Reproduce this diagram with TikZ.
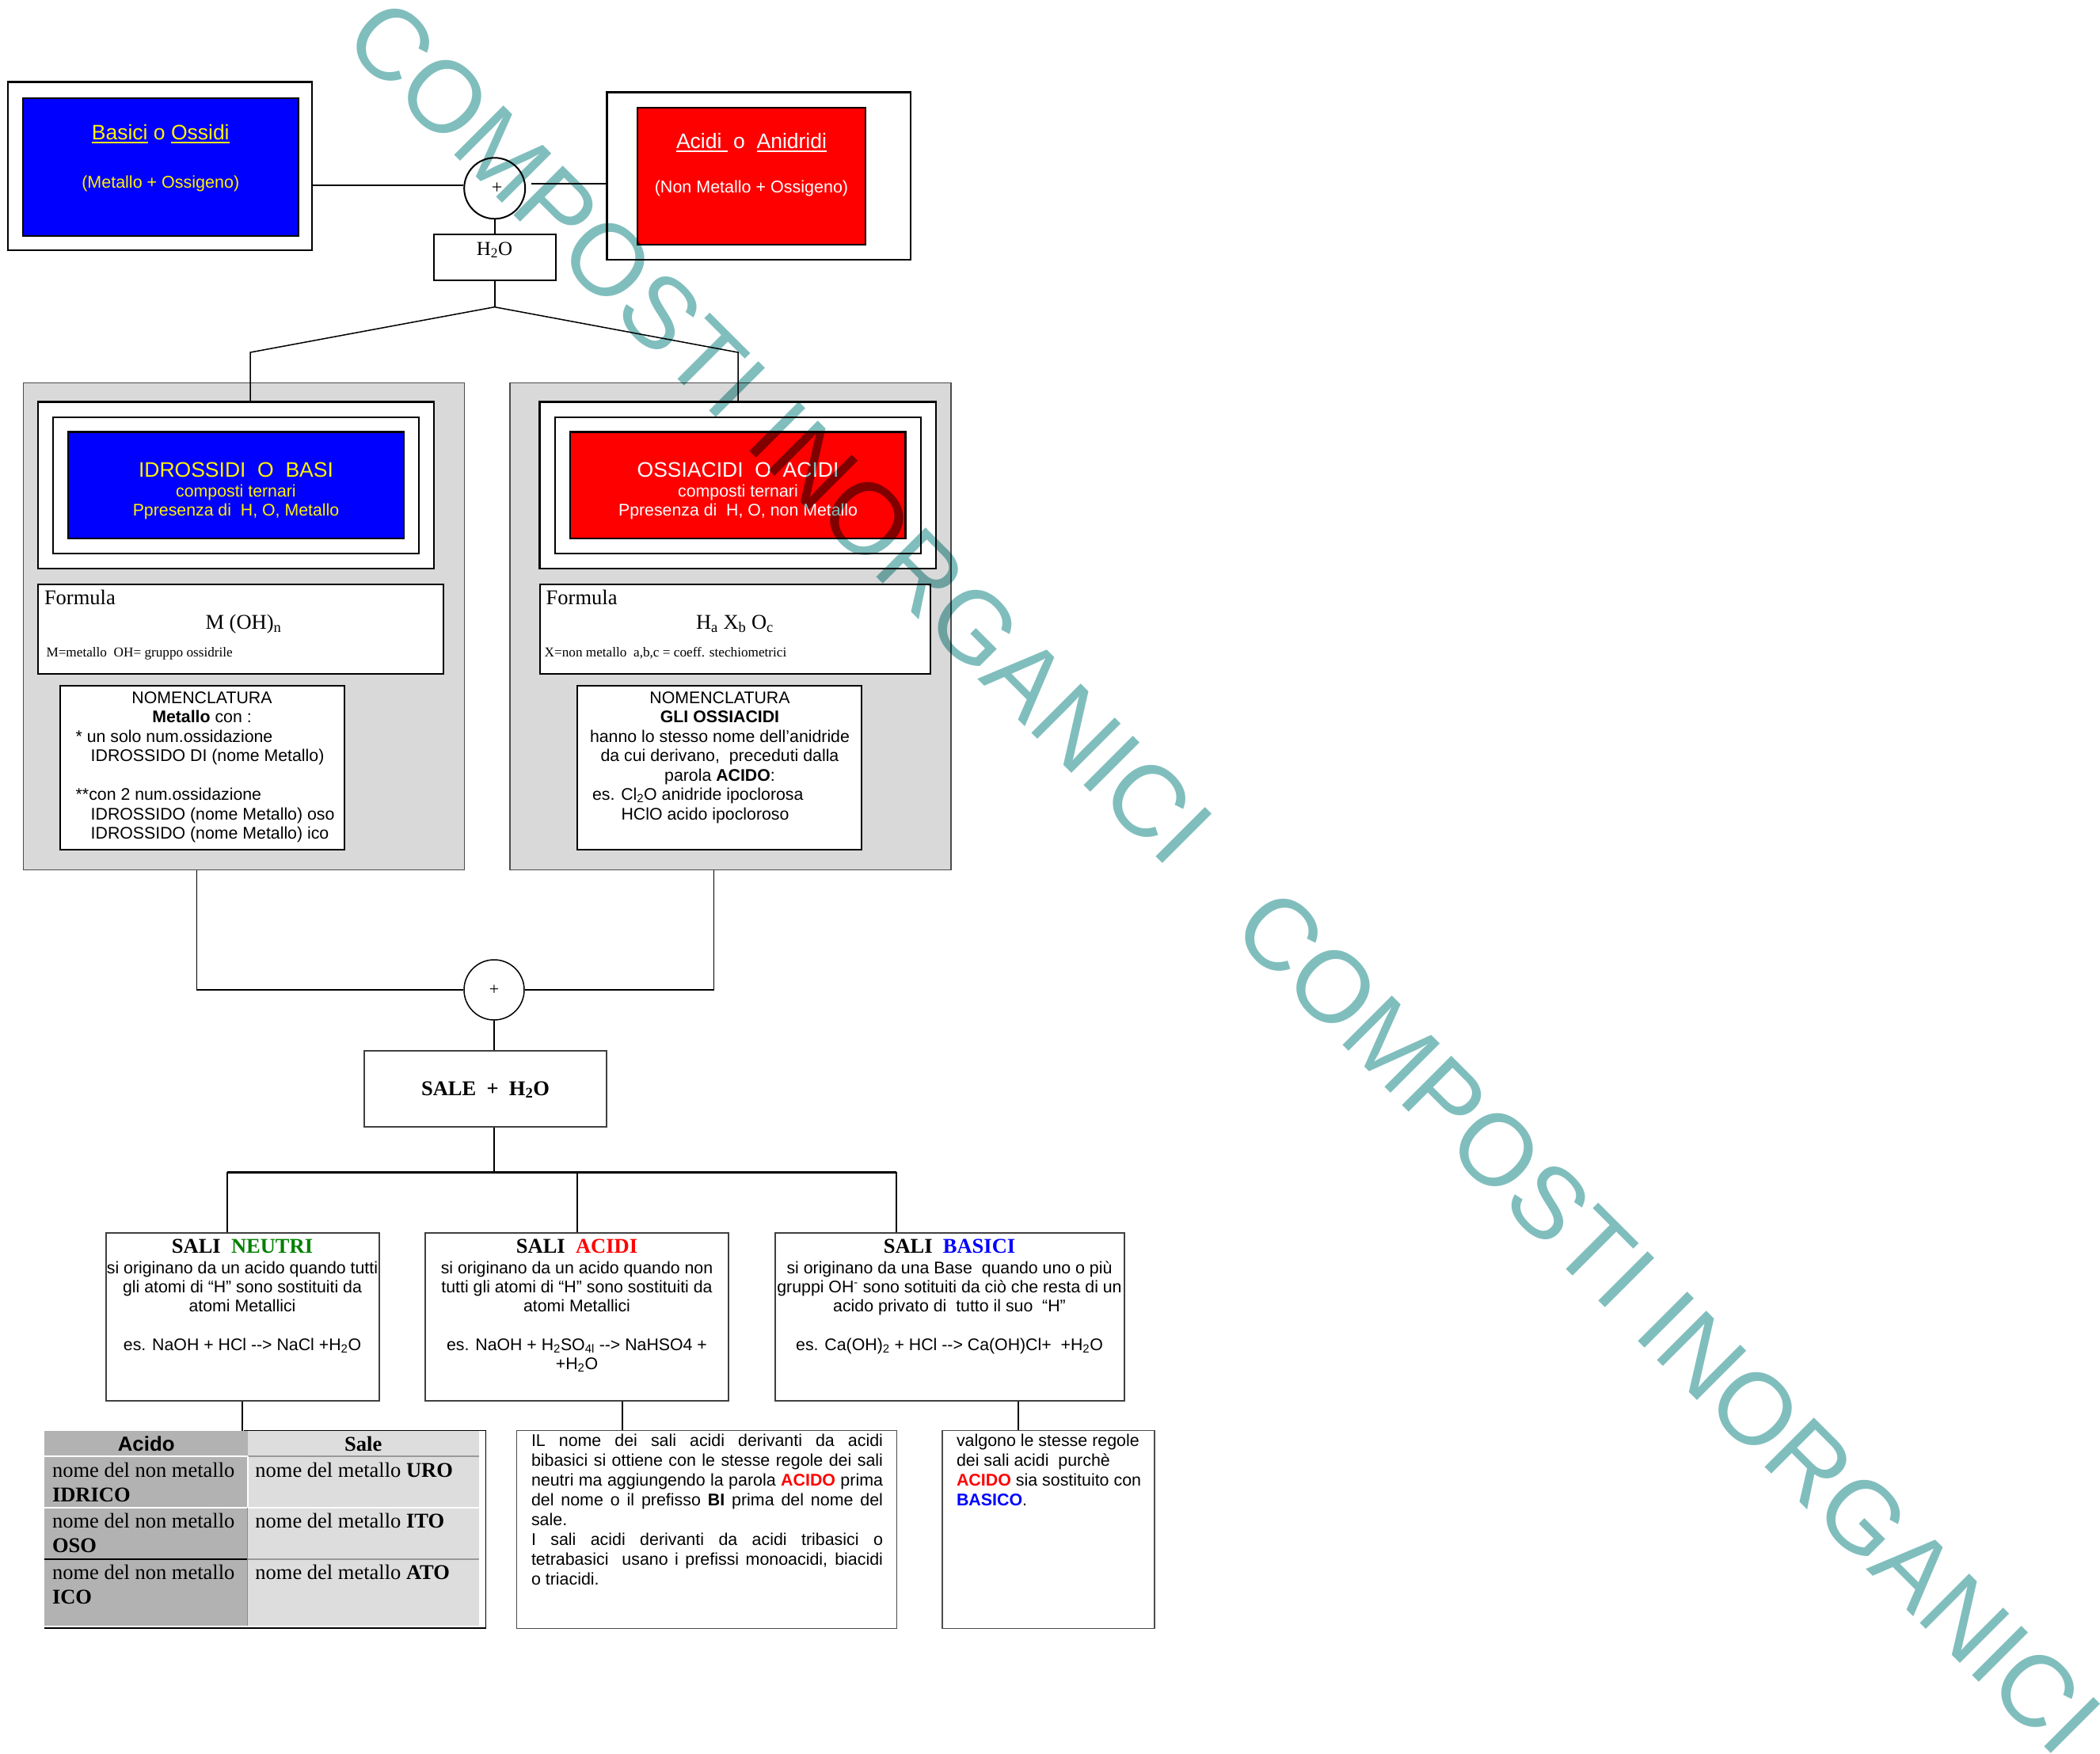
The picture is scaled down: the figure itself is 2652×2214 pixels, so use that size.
\documentclass[tikz,border=0pt]{standalone}
\usepackage{fontspec}
\setmainfont{Liberation Serif}
\newfontfamily\arial{Liberation Sans}
\usetikzlibrary{calc}
\newlength\ulw
\newcommand\uln[1]{\settowidth{\ulw}{#1}\rlap{\rule[-4.5pt]{\ulw}{2pt}}#1}
\definecolor{wm}{RGB}{128,190,189}
\definecolor{grayBox}{RGB}{217,217,217}
\definecolor{tabL}{RGB}{178,178,178}
\definecolor{tabR}{RGB}{221,221,221}
\definecolor{neutri}{RGB}{0,128,0}
\newcommand\tstrut{\rule{0pt}{30pt}}
\newcommand\fA{\arial\fontsize{21.3}{24.5}\selectfont}
\newcommand\fAs{\arial\fontsize{21.3}{24.2}\selectfont}
\newcommand\fAn{\arial\fontsize{21.4}{25}\selectfont}
\newcommand\fAb{\arial\fontsize{26.5}{30}\selectfont}
\newcommand\fAm{\arial\fontsize{21.5}{25}\selectfont}
\newcommand\fT{\fontsize{26.5}{30}\selectfont}
\newcommand\fTr{\fontsize{26.5}{31.7}\selectfont}
\newcommand\fTs{\fontsize{17.2}{20}\selectfont}
\tikzset{
  frame/.style={rectangle, draw=black, line width=2.5pt, fill=white, inner sep=0pt},
  grayb/.style={rectangle, draw=black!70, line width=1.5pt, fill=grayBox, inner sep=0pt},
  sbox/.style={rectangle, draw=black!75, line width=2pt, fill=white, inner sep=0pt},
  nbox/.style={rectangle, draw=black!70, line width=1.5pt, fill=white, inner sep=0pt},
  txt/.style={inner sep=0pt, outer sep=0pt},
  conn/.style={line width=2pt, draw=black},
  thinconn/.style={line width=1.5pt, draw=black},
  wmark/.style={inner sep=0pt, rotate=-45, text=wm, font=\arial\fontsize{128}{128}\selectfont}
}
\begin{document}
\begin{tikzpicture}[x=1pt,y=-1pt]
\useasboundingbox (0,0) rectangle (2652,2214);
\fill[white] (0,0) rectangle (2652,2214);

% ---------- top row ----------
\node[frame, minimum width=384pt, minimum height=212.5pt] (basiOut) at (202,209.75) {};
\node[frame, fill=blue, line width=2pt, minimum width=348.5pt, minimum height=174pt] (basiIn) at (202.75,210.5) {};
\node[txt, anchor=base, text=yellow, font=\fAb] (basiT) at (202.75,176) {\uln{Basici} o \uln{Ossidi}};
\node[txt, anchor=base, text=yellow, font=\fAm] (basiS) at (202.75,237) {(Metallo + Ossigeno)};

\node[frame, minimum width=383.4pt, minimum height=211.5pt] (acidOut) at (958.3,222.25) {};
\node[frame, fill=red, line width=2pt, minimum width=288pt, minimum height=173pt] (acidIn) at (949,222) {};
\node[txt, anchor=base, text=white, font=\fAb] (acidT) at (949,187) {\uln{Acidi\ }\ o\ \ \uln{Anidridi}};
\node[txt, anchor=base, text=white, font=\fAm] (acidS) at (949,243) {(Non Metallo + Ossigeno)};

\node[circle, draw=black, line width=2pt, fill=white, minimum size=77pt, inner sep=0pt] (c1) at (624.7,237.8) {};
\node[txt, font=\fontsize{24}{24}\selectfont] (p1) at (627.7,237.7) {+};

\node[frame, line width=2pt, minimum width=154.3pt, minimum height=58.4pt] (h2o) at (624.85,325.2) {};
\node[txt, anchor=base, font=\fontsize{25}{28}\selectfont] (h2oT) at (624.6,322) {H\textsubscript{2}O};

% ---------- left gray block ----------
\node[grayb, minimum width=557pt, minimum height=615pt] (G1) at (308,791) {};
\node[frame, minimum width=500pt, minimum height=210.5pt] (Lout) at (298,612.75) {};
\node[frame, line width=2pt, minimum width=462pt, minimum height=172.5pt] (Lin) at (298,612.75) {};
\node[frame, fill=blue, minimum width=424pt, minimum height=134.5pt] (Lcol) at (298,612.75) {};
\node[txt, anchor=north, align=center, text=yellow, font=\fA] (LcolT) at (298,572.7)
  {\tstrut{\fontsize{26.5}{24.5}\selectfont IDROSSIDI\ \ O\ \ BASI}\\ composti ternari\\ Ppresenza di\ \ H, O, Metallo};

\node[frame, line width=2pt, minimum width=512pt, minimum height=113pt] (Lf) at (304,794.5) {};
\node[txt, anchor=base west, font=\fT] (LfT) at (56,763) {Formula};
\node[txt, anchor=base, font=\fT] (LfF) at (307.5,794.5) {M (OH)\textsubscript{n}};
\node[txt, anchor=base west, font=\fTs] (LfN) at (58.5,829.2) {M=metallo\ \ OH= gruppo ossidrile};

\node[frame, line width=2pt, minimum width=359.5pt, minimum height=207.5pt] (Ln) at (255.25,969.25) {};
\node[txt, anchor=north, align=center, font=\fA] (LnH) at (255,858) {\tstrut NOMENCLATURA\\ \textbf{Metallo} con :};
\node[txt, anchor=north west, align=left, font=\fA] (LnB) at (95.7,907)
  {\tstrut * un solo num.ossidazione\\{}\hspace*{19pt}IDROSSIDO DI (nome Metallo)\\{}\mbox{}\\{}**con 2 num.ossidazione\\{}\hspace*{19pt}IDROSSIDO (nome Metallo) oso\\{}\hspace*{19pt}IDROSSIDO (nome Metallo) ico};

% ---------- right gray block ----------
\node[grayb, minimum width=557.2pt, minimum height=615pt] (G2) at (922.4,791) {};
\node[frame, minimum width=500.1pt, minimum height=210.5pt] (Rout) at (931.75,612.75) {};
\node[frame, line width=2pt, minimum width=461.9pt, minimum height=172.5pt] (Rin) at (931.75,612.75) {};
\node[frame, fill=red, minimum width=423.5pt, minimum height=134.5pt] (Rcol) at (931.75,612.75) {};
\node[txt, anchor=north, align=center, text=white, font=\fA] (RcolT) at (932,572.7)
  {\tstrut{\fontsize{26.5}{24.5}\selectfont OSSIACIDI\ \ O\ \ ACIDI}\\ composti ternari\\ Ppresenza di\ \ H, O, non Metallo};

\node[frame, line width=2pt, minimum width=492.5pt, minimum height=113pt] (Rf) at (928.25,794.5) {};
\node[txt, anchor=base west, font=\fT] (RfT) at (689.7,763) {Formula};
\node[txt, anchor=base, font=\fT] (RfF) at (928,794.5) {H\textsubscript{a} X\textsubscript{b} O\textsubscript{c}};
\node[txt, anchor=base west, font=\fTs] (RfN) at (687.7,829.2) {X=non metallo\ \ a,b,c = coeff. stechiometrici};

\node[frame, line width=2pt, minimum width=359.7pt, minimum height=207.5pt] (Rn) at (908.55,969.25) {};
\node[txt, anchor=north, align=center, font=\fA] (RnH) at (909,858)
  {\tstrut NOMENCLATURA\\ \textbf{GLI OSSIACIDI}\\ hanno lo stesso nome dell’anidride\\ da cui derivano,\ \ preceduti dalla\\ parola \textbf{ACIDO}:};
\node[txt, anchor=north west, align=left, font=\fA] (RnB) at (748,980.5)
  {\tstrut es. Cl\textsubscript{2}O anidride ipoclorosa\\{}\hspace*{36.6pt}HClO acido ipocloroso};

% ---------- middle ----------
\node[circle, draw=black, line width=1.5pt, fill=white, minimum size=76pt, inner sep=0pt] (c2) at (624,1250) {};
\node[txt, font=\fontsize{22}{22}\selectfont] (p2) at (624,1250) {+};

\node[sbox, minimum width=306pt, minimum height=96pt] (sale) at (613,1375) {};
\node[txt, anchor=base, font=\bfseries\fT] (saleT) at (613,1383) {SALE\ \ +\ \ H\textsubscript{2}O};

% ---------- salt boxes ----------
\node[sbox, minimum width=345pt, minimum height=211.5pt] (neutri) at (306,1662.75) {};
\node[txt, anchor=base, font=\bfseries\fT] (neutriT) at (306,1582.7) {SALI\ \ \textcolor{neutri}{NEUTRI}};
\node[txt, anchor=north, align=center, font=\fAs] (neutriB) at (306,1578.3)
  {\tstrut si originano da un acido quando tutti\\ gli atomi di “H” sono sostituiti da\\ atomi Metallici\\ \mbox{}\\ es. NaOH + HCl -{}-> NaCl +H\textsubscript{2}O};

\node[sbox, minimum width=383.8pt, minimum height=211.5pt] (acidi) at (728.5,1662.75) {};
\node[txt, anchor=base, font=\bfseries\fT] (acidiT) at (728.5,1582.7) {SALI\ \ \textcolor{red}{ACIDI}};
\node[txt, anchor=north, align=center, font=\fAs] (acidiB) at (728.5,1578.3)
  {\tstrut si originano da un acido quando non\\ tutti gli atomi di “H” sono sostituiti da\\ atomi Metallici\\ \mbox{}\\ es. NaOH + H\textsubscript{2}SO\textsubscript{4l} -{}-> NaHSO4 +\\ +H\textsubscript{2}O};

\node[sbox, minimum width=441.9pt, minimum height=211.5pt] (basici) at (1199.45,1662.75) {};
\node[txt, anchor=base, font=\bfseries\fT] (basiciT) at (1199,1582.7) {SALI\ \ \textcolor{blue}{BASICI}};
\node[txt, anchor=north, align=center, font=\fAs] (basiciB) at (1199,1578.3)
  {\tstrut si originano da una Base\ \ quando uno o più\\ gruppi OH\textsuperscript{-}\ sono sotituiti da ciò che resta di un\\ acido privato di\ \ tutto il suo\ \ “H”\\ \mbox{}\\ es. Ca(OH)\textsubscript{2} + HCl -{}-> Ca(OH)Cl+\ \ +H\textsubscript{2}O};

% ---------- table ----------
\node[txt, minimum width=557.8pt, minimum height=249.3pt] (tab) at (334.4,1931.35) {};
\fill[tabL] (55.5,1806.7) rectangle (312.5,2053.3);
\fill[tabR] (312.5,1806.7) rectangle (605,2053.3);
\draw[white, line width=2pt] (55.5,1839.3) -- (312.5,1839.3);
\draw[black!40, line width=2pt] (312.5,1839.3) -- (605,1839.3);
\draw[white, line width=2pt] (55.5,1904) -- (605,1904);
\draw[black, line width=2pt] (55.5,1969) -- (312.5,1969);
\draw[black!40, line width=1.5pt] (312.5,1969) -- (605,1969);
\draw[white, line width=2pt] (312.5,1839.3) -- (312.5,1904);
\draw[black!45, line width=1.5pt] (312.5,1904) -- (312.5,2053.3);
\draw[black, line width=1.5pt] (308,1806.7) -- (613.3,1806.7) -- (613.3,2056) -- (55.5,2056);
\node[txt, anchor=base, font=\arial\bfseries\fontsize{25.8}{30}\selectfont] (tabH1) at (184.7,1832.7) {Acido};
\node[txt, anchor=base, font=\bfseries\fT] (tabH2) at (458.7,1832.7) {Sale};
\node[txt, anchor=north west, align=left, font=\fTr] (tab11) at (66,1835) {\tstrut nome del non metallo\\ \textbf{IDRICO}};
\node[txt, anchor=base west, font=\fT] (tab12) at (322.4,1865) {nome del metallo \textbf{URO}};
\node[txt, anchor=north west, align=left, font=\fTr] (tab21) at (66,1899) {\tstrut nome del non metallo\\ \textbf{OSO}};
\node[txt, anchor=base west, font=\fT] (tab22) at (322.4,1929) {nome del metallo \textbf{ITO}};
\node[txt, anchor=north west, align=left, font=\fTr] (tab31) at (66,1964) {\tstrut nome del non metallo\\ \textbf{ICO}};
\node[txt, anchor=base west, font=\fT] (tab32) at (322.4,1994) {nome del metallo \textbf{ATO}};

% ---------- notes ----------
\node[nbox, minimum width=480.1pt, minimum height=250pt] (note1) at (892.45,1931.7) {};
\node[txt, anchor=north west, align=left, font=\fAn] (note1T) at (671,1796.7)
  {\tstrut\makebox[444pt][s]{IL nome dei sali acidi derivanti da acidi}\\
   \makebox[444pt][s]{bibasici si ottiene con le stesse regole dei sali}\\
   \makebox[444pt][s]{neutri ma aggiungendo la parola \textcolor{red}{\textbf{ACIDO}} prima}\\
   \makebox[444pt][s]{del nome o il prefisso \textbf{BI} prima del nome del}\\
   sale.\\
   \makebox[444pt][s]{I sali acidi derivanti da acidi tribasici o}\\
   \makebox[444pt][s]{tetrabasici\ \ usano i prefissi monoacidi, biacidi}\\
   o triacidi.};

\node[nbox, minimum width=268pt, minimum height=250pt] (note2) at (1324,1931.7) {};
\node[txt, anchor=north west, align=left, font=\fAn] (note2T) at (1208,1796.7)
  {\tstrut valgono le stesse regole\\ dei sali acidi\ \ purchè\\ \textcolor{red}{\textbf{ACIDO}} sia sostituito con\\ \textcolor{blue}{\textbf{BASICO}}.};

% ---------- connectors ----------
\draw[conn] (basiOut.east |- 0,234) -- (c1.west |- 0,234);
\coordinate (r1) at (670.6,232);
\draw[conn] (r1) -- (acidOut.west |- r1);
\draw[conn] (c1.south) -- (c1.south |- h2o.north);
\coordinate (j1) at (624.6,387.7);
\coordinate (jl) at (316,445);
\coordinate (jr) at (932,445);
\draw[conn] (h2o.south -| j1) -- (j1);
\draw[thinconn] (j1) -- (jl) -- (jl |- Lout.north);
\draw[thinconn] (j1) -- (jr) -- (jr |- Rout.north);

\coordinate (bl) at (248.3,1250);
\coordinate (br) at (901.3,1250);
\draw[thinconn] (G1.south -| bl) -- (bl) -- (c2.west);
\draw[thinconn] (G2.south -| br) -- (br) -- (c2.east);
\draw[conn] (c2.south) -- (c2.south |- sale.north);
\coordinate (bus) at (624,1480);
\coordinate (busL) at (286.6,1480);
\coordinate (busM) at (728.5,1480);
\coordinate (busR) at (1131.7,1480);
\draw[conn] (sale.south -| bus) -- (bus);
\draw[line width=3pt] (busL) -- (busR);
\draw[conn] (busL) -- (busL |- neutri.north);
\draw[conn] (busM) -- (busM |- acidi.north);
\draw[conn] (busR) -- (busR |- basici.north);
\draw[conn] (neutri.south) -- (neutri.south |- tab.north);
\draw[conn] (acidi.south -| 786,0) -- (note1.north -| 786,0);
\draw[conn] (basici.south -| 1285.5,0) -- (note2.north -| 1285.5,0);

% ---------- watermark ----------
\begin{scope}[blend mode=multiply]
\node[wmark] (wm1) at (984.5,545) {COMPOSTI INORGANICI};
\node[wmark] (wm2) at (2106.5,1669) {COMPOSTI INORGANICI};
\end{scope}
\end{tikzpicture}
\end{document}
